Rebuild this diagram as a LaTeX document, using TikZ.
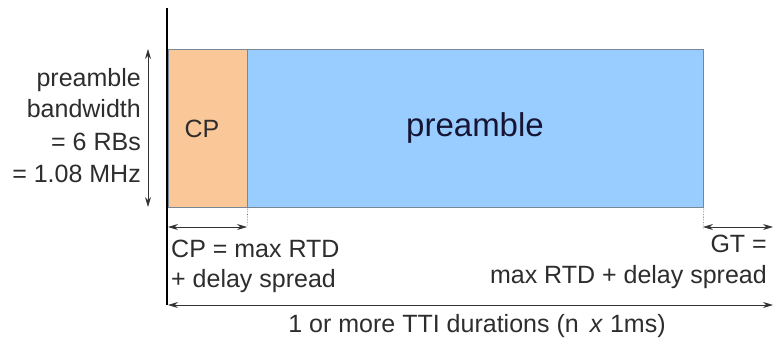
\documentclass[tikz,border=0pt]{standalone}
\usepackage{fontspec}
\setmainfont{Liberation Sans}
\usetikzlibrary{arrows.meta}
\definecolor{cporange}{RGB}{250,200,152}
\definecolor{preblue}{RGB}{153,204,255}
\definecolor{boxedge}{RGB}{120,135,150}
\definecolor{txt}{RGB}{45,45,45}
\tikzset{
  x=1pt, y=1pt,
  lbl/.style={inner sep=0pt, text=txt, font=\fontsize{25}{30}\selectfont},
  biglbl/.style={inner sep=0pt, text=txt!80!blue!60!black, font=\fontsize{33}{38}\selectfont},
  field/.style={draw=boxedge, line width=0.8pt, minimum height=158pt, inner sep=0pt, anchor=north west},
  dim/.style={draw=black!80, line width=0.8pt, {Stealth[length=10pt,width=6pt]}-{Stealth[length=10pt,width=6pt]}},
  ext/.style={draw=black!60, line width=0.6pt, densely dotted},
  axis/.style={draw=black, line width=2.2pt},
}
\begin{document}
\begin{tikzpicture}
\useasboundingbox (0,0) rectangle (773,-338);
% boxes
\node[field, fill=cporange, minimum width=79pt] (cp) at (168,-49) {};
\node[field, fill=preblue, minimum width=456pt] (pre) at (247,-49) {};
\node[lbl, anchor=base] (cplbl) at (202,-137) {CP};
\node[biglbl, anchor=base] (prelbl) at (475,-136) {preamble};
% axis
\coordinate (atop) at (167,-8);
\coordinate (abot) at (167,-305);
\draw[axis] (atop) -- (abot);
% bandwidth arrow
\coordinate (bwt) at (148,-49);
\coordinate (bwb) at (148,-207);
\draw[dim] (bwt) -- (bwb);
\node[lbl, anchor=base east] (l1) at (141,-86) {preamble};
\node[lbl, anchor=base east] (l2) at (141,-117) {bandwidth};
\node[lbl, anchor=base east] (l3) at (141,-150) {= 6 RBs};
\node[lbl, anchor=base east] (l4) at (141,-182) {= 1.08 MHz};
% CP dimension
\coordinate (cpl) at (168,-227);
\coordinate (cpr) at (247,-227);
\draw[ext] (cp.south east) -- (cpr);
\draw[dim] (cpl) -- (cpr);
\node[lbl, anchor=base west] (c1) at (171,-257) {CP = max RTD};
\node[lbl, anchor=base west] (c2) at (171,-287) {+ delay spread};
% GT dimension
\coordinate (gtl) at (703,-227);
\coordinate (gtr) at (773,-227);
\draw[ext] (pre.south east) -- ([yshift=-3pt]gtl);
\draw[dim] (gtl) -- (gtr);
\node[lbl, anchor=base east] (g1) at (767,-252) {GT =};
\node[lbl, anchor=base east] (g2) at (767,-283) {max RTD + delay spread};
% total duration
\coordinate (tl) at (168,-305);
\coordinate (tr) at (773,-305);
\draw[dim] (tl) -- (tr);
\node[lbl, anchor=base] (tot) at (477,-332) {1 or more TTI durations (n \,\textit{x} 1ms)};
\end{tikzpicture}
\end{document}
